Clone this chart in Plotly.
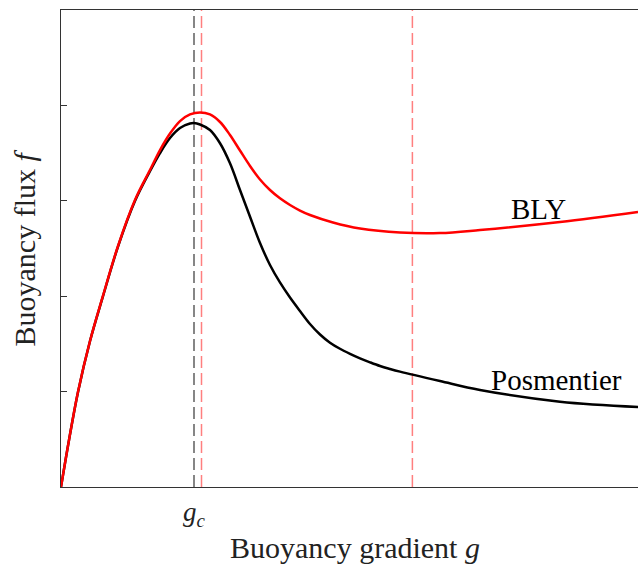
import plotly.graph_objects as go

# Buoyancy gradient g (arbitrary units) and flux f (arbitrary units)
g_bly = [0, 0.139, 0.295, 0.503, 0.723, 0.988, 1.282, 1.542, 1.716, 1.889, 2.062, 2.236, 2.409,
         2.582, 2.756, 2.929, 3.102, 3.276, 3.449, 3.622, 3.795, 3.969, 4.142, 4.315, 4.714,
         5.182, 5.875, 6.568, 7.262, 8.648, 10.0]
f_bly = [0, 0.493, 0.999, 1.53, 1.995, 2.526, 3.008, 3.323, 3.532, 3.705, 3.836, 3.905, 3.926,
         3.905, 3.826, 3.690, 3.527, 3.365, 3.223, 3.113, 3.026, 2.956, 2.898, 2.851, 2.773,
         2.710, 2.668, 2.662, 2.694, 2.778, 2.883]

g_pos = [0, 0.139, 0.295, 0.503, 0.723, 0.988, 1.282, 1.542, 1.716, 1.889, 2.062, 2.236, 2.305,
         2.409, 2.582, 2.756, 2.929, 3.102, 3.276, 3.449, 3.622, 3.795, 3.969, 4.142, 4.315,
         4.489, 4.662, 4.835, 5.009, 5.182, 5.355, 5.529, 5.702, 5.875, 6.568, 7.262, 8.648, 10.0]
f_pos = [0, 0.493, 0.996, 1.53, 1.99, 2.52, 2.998, 3.31, 3.50, 3.658, 3.763, 3.81, 3.815,
         3.80, 3.742, 3.603, 3.393, 3.113, 2.833, 2.558, 2.327, 2.144, 1.986, 1.845, 1.709,
         1.599, 1.513, 1.449, 1.396, 1.349, 1.307, 1.268, 1.237, 1.209, 1.111, 1.017, 0.894, 0.839]

g_c = 2.305
g_bly_lines = [2.435, 6.09]
y_ticks = [1, 2, 3, 4]

FONT = "Liberation Serif"
DASH = "12px,5px"

fig = go.Figure()

fig.add_trace(go.Scatter(x=[g_c, g_c], y=[0, 5], mode="lines",
                         line=dict(color="rgba(40,40,40,0.75)", width=1.5, dash=DASH),
                         showlegend=False, hoverinfo="skip"))
for gv in g_bly_lines:
    fig.add_trace(go.Scatter(x=[gv, gv], y=[0, 5], mode="lines",
                             line=dict(color="rgba(255,0,0,0.5)", width=1.5, dash=DASH),
                             showlegend=False, hoverinfo="skip"))

fig.add_trace(go.Scatter(x=g_pos, y=f_pos, mode="lines",
                         line=dict(color="black", width=2.5, shape="spline", smoothing=1.0),
                         showlegend=False))
fig.add_trace(go.Scatter(x=g_bly, y=f_bly, mode="lines",
                         line=dict(color="red", width=2.5, shape="spline", smoothing=1.0),
                         showlegend=False))

fig.add_annotation(x=8.27, y=2.914, text="BLY", showarrow=False,
                   font=dict(family=FONT, size=29, color="black"))
fig.add_annotation(x=8.59, y=1.125, text="Posmentier", showarrow=False,
                   font=dict(family=FONT, size=29, color="black"))

# axis titles and the g_c tick label
fig.add_annotation(xref="paper", yref="paper", x=0.5087, y=0, yshift=-60, yanchor="middle",
                   text="Buoyancy gradient <i>g</i>", showarrow=False,
                   font=dict(family=FONT, size=30, color="#222"))
fig.add_annotation(xref="paper", yref="paper", x=0, y=0.5, xshift=-37, xanchor="center",
                   yanchor="middle", textangle=-90,
                   text="Buoyancy flux <i>f</i>", showarrow=False,
                   font=dict(family=FONT, size=30, color="#222"))
fig.add_annotation(xref="x", yref="paper", x=g_c, y=0, yshift=-27, yanchor="middle",
                   text="<i>g</i><sub><i>c</i></sub>", showarrow=False,
                   font=dict(family=FONT, size=27, color="#222"))

fig.update_layout(
    width=639, height=565,
    margin=dict(l=61, r=1, t=10, b=78),
    plot_bgcolor="white", paper_bgcolor="white",
    font=dict(family=FONT, size=24, color="#222"),
    xaxis=dict(range=[0, 10], showline=True, linecolor="#333", linewidth=1.3, mirror=True,
               showgrid=False, zeroline=False, showticklabels=False, ticks="", automargin=False),
    yaxis=dict(range=[0, 5], showline=True, linecolor="#333", linewidth=1.3, mirror=False,
               showgrid=False, zeroline=False, tickvals=y_ticks, ticks="inside", ticklen=6,
               tickcolor="#333", tickwidth=1.2, showticklabels=False, automargin=False),
)

fig.write_html("out.html", config={"displayModeBar": False},
               post_script="document.body.style.margin='0';document.body.style.overflow='hidden';")
